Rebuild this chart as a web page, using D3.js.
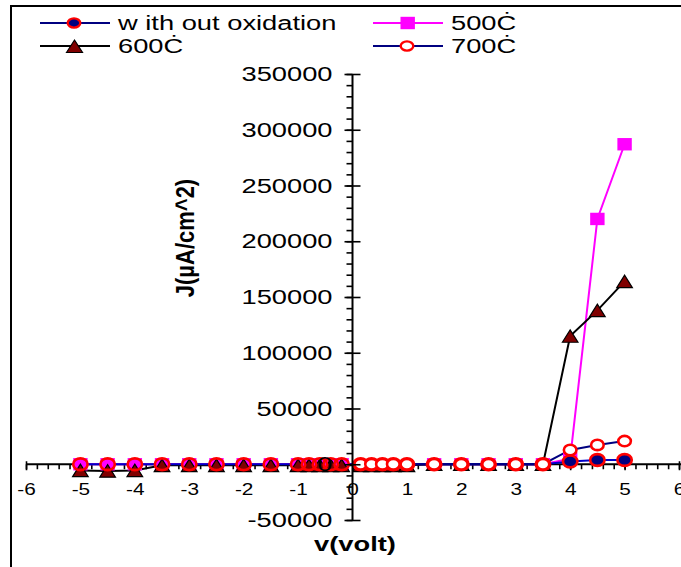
<!DOCTYPE html>
<html lang="en">
<head>
<meta charset="UTF-8" />
<title>J-V curves</title>
<script src="https://cdn.jsdelivr.net/npm/d3@7"></script>
<style>
  body { margin: 0; background: #fff; }
  svg { display: block; font-family: "Liberation Sans", Arial, sans-serif; }
</style>
</head>
<body>
<div id="chart"></div>
<script>
// data
var withoutX = [-5, -4.5, -4, -3.5, -3, -2.5, -2, -1.5, -1, -0.8, -0.6, -0.4, -0.2, 0.15, 0.35, 0.55, 0.75, 1, 1.5, 2, 2.5, 3, 3.5, 4, 4.5, 5];
var withoutY = [0, 0, 0, 0, 0, 0, 0, 0, 0, 0, 0, 0, 0, 0, 0, 0, 0, 0, 0, 0, 0, 0, 0, 2500, 3800, 3800];

var c500X = [-5, -4.5, -4, -3.5, -3, -2.5, -2, -1.5, -1, -0.8, -0.6, -0.4, -0.2, 1.5, 2, 2.5, 3, 3.5, 4, 4.5, 5];
var c500Y = [0, 0, 0, 0, 0, 0, 0, 0, 0, 0, 0, 0, 0, 0, 0, 0, 0, 0, 5000, 220000, 287000];

var c600X = [-5, -4.5, -4, -3.5, -3, -2.5, -2, -1.5, -1, -0.8, -0.6, -0.4, -0.2, 0.15, 0.35, 0.55, 0.75, 1, 1.5, 2, 2.5, 3, 3.5, 4, 4.5, 5];
var c600Y = [-5500, -6000, -5500, -1000, -1000, -1000, -1000, -1000, -1000, -1000, -1000, -1000, -1000, -1000, -1000, -1000, -1000, -1000, 0, 0, 0, 0, 0, 115000, 138000, 164000];

var c700X = [0.15, 0.35, 0.55, 0.75, 1, 1.5, 2, 2.5, 3, 3.5, 4, 4.5, 5];
var c700Y = [0, 0, 0, 0, 0, 0, 0, 0, 0, 0, 12800, 17300, 20800];

var xTicks = [-6, -5, -4, -3, -2, -1, 0, 1, 2, 3, 4, 5, 6];
var yTicks = [-50000, 0, 50000, 100000, 150000, 200000, 250000, 300000, 350000];

var w = 681, h = 567;
var stretch = 1.3;   // text in the picture is drawn wide

function pts(xs, ys) {
  return xs.map(function(d, i) { return {x: d, y: ys[i]}; });
}

var series = {
  without: pts(withoutX, withoutY),
  c500: pts(c500X, c500Y),
  c600: pts(c600X, c600Y),
  c700: pts(c700X, c700Y)
};

var svg = d3.select("#chart").append("svg")
  .attr("width", w)
  .attr("height", h);

var xScale = d3.scaleLinear().domain([-6, 6]).range([26, 679]);
var yScale = d3.scaleLinear().domain([-50000, 350000]).range([520, 74]);

// frame (top and left edges only are visible)
svg.append("path")
  .attr("d", "M11," + h + "V6H" + w)
  .attr("fill", "none")
  .attr("stroke", "#000")
  .attr("stroke-width", 2);

// x axis
var y0 = yScale(0);
svg.append("g")
  .attr("transform", "translate(0," + y0 + ")")
  .call(d3.axisBottom(xScale).tickValues(d3.range(-60, 61, 2).map(function(d) { return d / 10; }))
    .tickSize(5).tickFormat(""))
  .call(function(g) { g.select(".domain").remove(); })
  .selectAll("line").attr("stroke-width", 1.6);

var xAx = svg.append("g")
  .attr("transform", "translate(0," + y0 + ")")
  .call(d3.axisBottom(xScale).tickValues(xTicks).tickSize(6).tickFormat(function(d) { return String(d); }));
xAx.select(".domain").remove();
xAx.selectAll("line").attr("stroke-width", 1.6).attr("y1", -3);
xAx.selectAll("text")
  .attr("y", 19).attr("dy", "0.71em")
  .attr("font-size", 16)
  .attr("font-family", "Liberation Sans, Arial, sans-serif")
  .attr("transform", "scale(" + stretch + ",1)");

svg.append("line")
  .attr("x1", xScale(-6)).attr("x2", w)
  .attr("y1", y0).attr("y2", y0)
  .attr("stroke", "#000").attr("stroke-width", 2);

// y axis
var x0 = xScale(0);
svg.append("g")
  .attr("transform", "translate(" + x0 + ",0)")
  .call(d3.axisLeft(yScale).tickValues(d3.range(-50000, 350001, 10000)).tickSize(6).tickFormat(""))
  .call(function(g) { g.select(".domain").remove(); })
  .selectAll("line").attr("stroke-width", 1.6);

var yLine = svg.append("line")
  .attr("x1", x0).attr("x2", x0)
  .attr("y1", yScale(350000)).attr("y2", yScale(-50000))
  .attr("stroke", "#000").attr("stroke-width", 2);

// axis titles
svg.append("text")
  .attr("transform", "translate(" + 194 + "," + 238 + ") scale(1.15,1) rotate(-90)")
  .attr("text-anchor", "middle")
  .attr("font-size", 22)
  .attr("font-weight", "bold")
  .text("J(µA/cm^2)");

svg.append("text")
  .attr("transform", "translate(" + 355 + "," + 551 + ") scale(" + stretch + ",1)")
  .attr("text-anchor", "middle")
  .attr("font-size", 21)
  .attr("font-weight", "bold")
  .text("v(volt)");

// lines
var line = d3.line()
  .x(function(d) { return xScale(d.x); })
  .y(function(d) { return yScale(d.y); });

var lineStyles = [
  ["c500", "#ff00ff"],
  ["c600", "#000000"],
  ["without", "#0000c8"],
  ["c700", "#000080"]
];
lineStyles.forEach(function(s) {
  svg.append("path")
    .datum(series[s[0]])
    .attr("d", line)
    .attr("fill", "none")
    .attr("stroke", s[1])
    .attr("stroke-width", 2);
});

// markers
function squares(g, data) {
  g.selectAll(null).data(data).enter().append("rect")
    .attr("x", function(d) { return xScale(d.x) - 7.2; })
    .attr("y", function(d) { return yScale(d.y) - 6.2; })
    .attr("width", 14.4).attr("height", 12.4)
    .attr("fill", "#ff00ff");
}
function triangles(g, data) {
  g.selectAll(null).data(data).enter().append("path")
    .attr("d", function(d) {
      var cx = xScale(d.x), cy = yScale(d.y);
      return "M" + (cx - 7.8) + "," + (cy + 6.2) + "L" + cx + "," + (cy - 6.2) + "L" + (cx + 7.8) + "," + (cy + 6.2) + "Z";
    })
    .attr("fill", "#800000")
    .attr("stroke", "#000")
    .attr("stroke-width", 1.2);
}
function circles(g, data, fill, rx, ry) {
  g.selectAll(null).data(data).enter().append("ellipse")
    .attr("cx", function(d) { return xScale(d.x); })
    .attr("cy", function(d) { return yScale(d.y); })
    .attr("rx", rx).attr("ry", ry)
    .attr("fill", fill)
    .attr("stroke", "#ff0000")
    .attr("stroke-width", 2.6);
}

var marks = svg.append("g");
squares(marks.append("g"), series.c500);
triangles(marks.append("g"), series.c600);
circles(marks.append("g"), series.without, function(d) { return d.x < 0 ? "none" : "#000080"; }, 7.2, 5.9);
circles(marks.append("g"), series.c700, "#fff", 6.3, 5.2);

// y tick labels sit over the markers
var yAx = svg.append("g")
  .attr("transform", "translate(" + x0 + ",0)")
  .call(d3.axisLeft(yScale).tickValues(yTicks).tickSize(8).tickFormat(function(d) { return String(d); }));
yAx.select(".domain").remove();
yAx.selectAll("line").attr("stroke-width", 1.6).attr("x2", 8).attr("x1", -8);
yAx.selectAll("text")
  .attr("x", -20 / stretch)
  .attr("font-size", 21)
  .attr("font-family", "Liberation Sans, Arial, sans-serif")
  .attr("transform", "scale(" + stretch + ",1)");
yLine.raise();

// legend
var legend = svg.append("g").attr("font-size", 21);
var legendItems = [
  {name: "w ith out oxidation", x: 40, y: 23, line: "#000080", mark: "without"},
  {name: "500Ċ", x: 373, y: 23, line: "#ff00ff", mark: "c500"},
  {name: "600Ċ", x: 40, y: 46, line: "#000000", mark: "c600"},
  {name: "700Ċ", x: 373, y: 46, line: "#000080", mark: "c700"}
];
legendItems.forEach(function(d) {
  var g = legend.append("g").attr("transform", "translate(" + d.x + "," + d.y + ")");
  g.append("line").attr("x1", 0).attr("x2", 70).attr("y1", 0).attr("y2", 0)
    .attr("stroke", d.line).attr("stroke-width", 2);
  if (d.mark === "c500") {
    g.append("rect").attr("x", 27.5).attr("y", -6.2).attr("width", 14.4).attr("height", 12.4).attr("fill", "#ff00ff");
  } else if (d.mark === "c600") {
    g.append("path").attr("d", "M26.5,6.5L34.5,-6L42.5,6.5Z")
      .attr("fill", "#800000").attr("stroke", "#000").attr("stroke-width", 1.2);
  } else {
    g.append("ellipse").attr("cx", 34).attr("cy", 0).attr("rx", 6.3).attr("ry", 4.6)
      .attr("fill", d.mark === "without" ? "#000080" : "#fff")
      .attr("stroke", "#ff0000").attr("stroke-width", 2.4);
  }
  g.append("text")
    .attr("transform", "translate(78,7) scale(" + stretch + ",1)")
    .text(d.name);
});
</script>
</body>
</html>
